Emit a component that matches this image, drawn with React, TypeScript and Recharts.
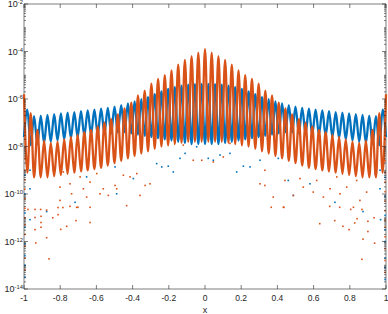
import { ComposedChart, Line, Scatter, XAxis, YAxis, ReferenceArea } from "recharts";

// sample grid shared by both curves (peaks / dips alternate)
const gridX = [
  -1, -0.9815, -0.963, -0.9444, -0.9259, -0.9074, -0.8889, -0.8704, -0.8519, -0.8333,
  -0.8148, -0.7963, -0.7778, -0.7593, -0.7407, -0.7222, -0.7037, -0.6852, -0.6667, -0.6481,
  -0.6296, -0.6111, -0.5926, -0.5741, -0.5556, -0.537, -0.5185, -0.5, -0.4815, -0.463,
  -0.4444, -0.4259, -0.4074, -0.3889, -0.3704, -0.3519, -0.3333, -0.3148, -0.2963, -0.2778,
  -0.2593, -0.2407, -0.2222, -0.2037, -0.1852, -0.1667, -0.1481, -0.1296, -0.1111, -0.0926,
  -0.0741, -0.0556, -0.037, -0.0185,
  0,
  0.0185, 0.037, 0.0556, 0.0741, 0.0926, 0.1111, 0.1296, 0.1481, 0.1667, 0.1852,
  0.2037, 0.2222, 0.2407, 0.2593, 0.2778, 0.2963, 0.3148, 0.3333, 0.3519, 0.3704,
  0.3889, 0.4074, 0.4259, 0.4444, 0.463, 0.4815, 0.5, 0.5185, 0.537, 0.5556,
  0.5741, 0.5926, 0.6111, 0.6296, 0.6481, 0.6667, 0.6852, 0.7037, 0.7222, 0.7407,
  0.7593, 0.7778, 0.7963, 0.8148, 0.8333, 0.8519, 0.8704, 0.8889, 0.9074, 0.9259,
  0.9444, 0.963, 0.9815, 1,
];

// log10 of the error, blue: peaks on odd samples
const blueLog = [
  -7.6, -6.45, -7.95, -6.72, -7.9, -6.7, -7.85, -6.67, -7.8, -6.64,
  -7.75, -6.61, -7.7, -6.58, -7.65, -6.55, -7.6, -6.51, -7.55, -6.48,
  -7.5, -6.45, -7.5, -6.41, -7.45, -6.37, -7.45, -6.32, -7.4, -6.26,
  -7.4, -6.19, -7.45, -6.1, -7.5, -6.01, -7.55, -5.92, -7.6, -5.8,
  -7.65, -5.68, -7.7, -5.58, -7.75, -5.5, -7.8, -5.44, -7.85, -5.4,
  -7.9, -5.37, -7.9, -5.36,
  -7.9,
  -5.36, -7.9, -5.37, -7.9, -5.4, -7.85, -5.44, -7.8, -5.5, -7.75,
  -5.58, -7.7, -5.68, -7.65, -5.8, -7.6, -5.92, -7.55, -6.01, -7.5,
  -6.1, -7.45, -6.19, -7.4, -6.26, -7.4, -6.32, -7.45, -6.37, -7.45,
  -6.41, -7.5, -6.45, -7.5, -6.48, -7.55, -6.51, -7.6, -6.55, -7.65,
  -6.58, -7.7, -6.61, -7.75, -6.64, -7.8, -6.67, -7.85, -6.7, -7.9,
  -6.72, -7.95, -6.45, -7.6,
];

// orange: peaks on even samples
const orangeLog = [
  -5.8, -9.1, -6.6, -9.3, -7.3, -9.3, -7.75, -9.3, -7.85, -9.25,
  -7.8, -9.2, -7.7, -9.15, -7.6, -9.1, -7.5, -9.05, -7.4, -9.0,
  -7.3, -8.95, -7.15, -8.9, -7.0, -8.8, -6.85, -8.7, -6.65, -8.6,
  -6.4, -8.5, -6.15, -8.4, -5.85, -8.3, -5.65, -8.2, -5.35, -8.1,
  -5.15, -8.0, -5.0, -7.95, -4.8, -7.9, -4.55, -7.85, -4.35, -7.8,
  -4.2, -7.8, -4.05, -7.8,
  -3.9,
  -7.8, -4.05, -7.8, -4.2, -7.8, -4.35, -7.85, -4.55, -7.9, -4.8,
  -7.95, -5.0, -8.0, -5.15, -8.1, -5.35, -8.2, -5.65, -8.3, -5.85,
  -8.4, -6.15, -8.5, -6.4, -8.6, -6.65, -8.7, -6.85, -8.8, -7.0,
  -8.9, -7.15, -8.95, -7.3, -9.0, -7.4, -9.05, -7.5, -9.1, -7.6,
  -9.15, -7.7, -9.2, -7.8, -9.25, -7.85, -9.3, -7.75, -9.3, -7.3,
  -9.3, -6.6, -9.1, -5.8,
];

// isolated points falling into the dips
const blueDotX = [
  -0.967, -0.967, -0.718, -0.488, -0.396, -0.654, -0.497, -0.967, -0.875,
  -0.175, -0.239, -0.203, -0.138, -0.11, -0.046, 0.018, 0.046, 0.083, 0.138,
  0.175, 0.212, 0.249, -0.267, 0.304,
  0.488, 0.718, 0.58, 0.967, 0.967, 0.46, 0.405, 0.873, 0.97,
  -0.995, -0.995, -0.995, -0.995, -0.995, -0.995, -0.995, -0.995,
  0.995, 0.995, 0.995, 0.995, 0.995, 0.995, 0.995, 0.995,
];
const blueDotLog = [
  -9.0, -9.78, -10.35, -9.99, -9.35, -9.28, -8.86, -11.08, -10.74,
  -9.07, -8.86, -8.83, -8.5, -8.29, -8.01, -8.5, -8.58, -8.36, -8.29,
  -9.07, -8.83, -8.86, -8.72, -8.58,
  -10.06, -10.35, -9.57, -9.78, -9.0, -9.43, -8.5, -10.74, -11.08,
  -9.2, -10.0, -10.8, -11.4, -12.1, -12.6, -13.0, -13.5,
  -9.3, -10.1, -10.9, -11.5, -12.0, -12.7, -13.1, -13.6,
];

const orangeDotX = [
  -0.978, -0.939, -0.908, -0.875, -0.812, -0.785, -0.746, -0.702, -0.906, -0.906,
  -0.906, -0.841, -0.812, -0.713, -0.635, -0.797, -0.764, -0.935, -0.875, -0.862,
  -0.939, -0.939,
  0.634, 0.717, 0.762, 0.796, 0.827, 0.84, 0.873, 0.867, 0.937, 0.9,
  0.934, 0.867, 0.805, 0.744, 0.689, 0.366, 0.436, 0.9,
  -0.838, -0.783, -0.746, -0.69, -0.635, -0.598, -0.534, -0.58, -0.497, -0.451,
  -0.414, -0.377, -0.359, -0.433, -0.654, -0.801, -0.709, -0.635, -0.488, -0.562,
  -0.672, -0.737, -0.801,
  -0.065, -0.018, 0.046, 0.101, -0.331, -0.304, 0.304, 0.331, 0.138, -0.12,
  0.377, 0.433, 0.488, 0.543, 0.598, 0.654, 0.691, 0.746, 0.783, 0.82,
  0.856, 0.893, 0.442, 0.525, 0.617, 0.728, 0.838, 0.331, 0.939,
  -0.995, -0.995, -0.995, -0.995, -0.995, -0.995, -0.995, -0.995, -0.995, -0.995,
  -0.995, -0.995,
  0.995, 0.995, 0.995, 0.995, 0.995, 0.995, 0.995, 0.995, 0.995, 0.995,
  0.995, 0.995,
];
const orangeDotLog = [
  -10.65, -10.65, -10.65, -10.68, -10.57, -10.57, -10.52, -10.56, -10.94, -11.2,
  -11.4, -11.0, -10.87, -11.12, -11.2, -11.49, -11.36, -12.06, -11.84, -12.73,
  -10.99, -11.5,
  -11.25, -11.12, -11.36, -11.5, -11.22, -11.04, -11.9, -12.75, -12.07, -11.15,
  -11.0, -10.65, -10.65, -10.56, -10.52, -10.56, -10.56, -11.58,
  -9.0, -9.07, -9.57, -9.28, -9.5, -9.14, -10.06, -9.99, -9.64, -9.21,
  -9.28, -9.14, -10.06, -10.49, -10.13, -10.27, -10.56, -10.56, -9.78, -9.78,
  -9.78, -9.99, -9.71,
  -8.58, -8.58, -8.65, -8.44, -9.64, -9.57, -9.57, -9.64, -7.87, -7.94,
  -10.13, -10.56, -10.06, -9.71, -9.92, -10.13, -9.78, -9.99, -9.71, -10.56,
  -10.27, -9.92, -9.43, -9.35, -9.43, -9.28, -9.43, -9.0, -9.14,
  -8.5, -9.0, -9.4, -9.8, -10.2, -10.6, -11.0, -11.3, -11.7, -12.2,
  -12.7, -13.2,
  -8.6, -9.1, -9.5, -9.9, -10.3, -10.7, -11.1, -11.4, -11.8, -12.3,
  -12.8, -13.3,
];

const xTicks = [-1, -0.8, -0.6, -0.4, -0.2, 0, 0.2, 0.4, 0.6, 0.8, 1];
const yDecades = [-14, -13, -12, -11, -10, -9, -8, -7, -6, -5, -4, -3, -2];

const W = 388;
const H = 314;
const LEFT = 24;
const RIGHT = 386;
const TOP = 4;
const BOTTOM = 289;
const BLUE = "#0072BD";
const ORANGE = "#D95319";
const INK = "#262626";
const FONT = "'Liberation Sans', Arial, sans-serif";

const toRows = (xs: number[], logs: number[]) =>
  xs.map((x, i) => ({ x, v: Math.pow(10, logs[i]) }));

const blueRows = toRows(gridX, blueLog);
const orangeRows = toRows(gridX, orangeLog);
const blueDots = toRows(blueDotX, blueDotLog);
const orangeDots = toRows(orangeDotX, orangeDotLog);

const yTicks: number[] = [];
yDecades.forEach((d) => {
  yTicks.push(Math.pow(10, d));
  if (d < -2) for (let m = 2; m <= 9; m++) yTicks.push(m * Math.pow(10, d));
});

const YTick = (props: any) => {
  const { y, payload } = props;
  const lg = Math.log10(payload.value);
  const major = Math.abs(lg - Math.round(lg)) < 1e-6 && Math.round(lg) % 2 === 0;
  const len = major ? 4 : 2;
  return (
    <g>
      <line x1={LEFT} x2={LEFT + len} y1={y} y2={y} stroke={INK} strokeWidth={0.6} />
      <line x1={RIGHT} x2={RIGHT - len} y1={y} y2={y} stroke={INK} strokeWidth={0.6} />
      {major && (
        <text x={LEFT - 1} y={y + 3.3} textAnchor="end" fill={INK} fontSize={9} fontFamily={FONT}>
          <tspan>10</tspan>
          <tspan dy={-3.2} fontSize={5.8}>{String(Math.round(lg))}</tspan>
        </text>
      )}
    </g>
  );
};

const XTick = (props: any) => {
  const { x, payload } = props;
  return (
    <g>
      <line x1={x} x2={x} y1={BOTTOM} y2={BOTTOM - 4} stroke={INK} strokeWidth={0.6} />
      <line x1={x} x2={x} y1={TOP} y2={TOP + 4} stroke={INK} strokeWidth={0.6} />
      <text x={x} y={BOTTOM + 12} textAnchor="middle" fill={INK} fontSize={8.5} fontFamily={FONT}>
        {String(payload.value)}
      </text>
    </g>
  );
};

const Dot = (color: string) => (p: any) =>
  <rect x={p.cx - 0.8} y={p.cy - 0.8} width={1.6} height={1.6} fill={color} />;

export default function App() {
  return (
    <div style={{ position: "absolute", left: 0, top: 0, background: "#fff" }}>
      <ComposedChart width={W} height={H} margin={{ top: TOP, right: W - RIGHT, left: 0, bottom: 0 }}>
        <XAxis
          type="number"
          dataKey="x"
          domain={[-1, 1]}
          ticks={xTicks}
          interval={0}
          height={H - BOTTOM}
          tickLine={false}
          axisLine={false}
          tick={<XTick />}
          label={{ value: "x", position: "insideBottom", offset: 1, fontSize: 9, fill: INK, fontFamily: FONT }}
        />
        <YAxis
          type="number"
          scale="log"
          domain={[1e-14, 1e-2]}
          allowDataOverflow
          ticks={yTicks}
          interval={0}
          width={LEFT}
          tickLine={false}
          axisLine={false}
          tick={<YTick />}
        />
        <Line data={blueRows} dataKey="v" type="monotone" stroke={BLUE} strokeWidth={2.3} dot={false} isAnimationActive={false} />
        <Scatter data={blueDots} dataKey="v" fill={BLUE} shape={Dot(BLUE)} isAnimationActive={false} />
        <Line data={orangeRows} dataKey="v" type="monotone" stroke={ORANGE} strokeWidth={2.3} dot={false} isAnimationActive={false} />
        <Scatter data={orangeDots} dataKey="v" fill={ORANGE} shape={Dot(ORANGE)} isAnimationActive={false} />
        <ReferenceArea x1={-1} x2={1} y1={1e-14} y2={1e-2} fill="none" stroke={INK} strokeWidth={0.6} />
      </ComposedChart>
    </div>
  );
}
